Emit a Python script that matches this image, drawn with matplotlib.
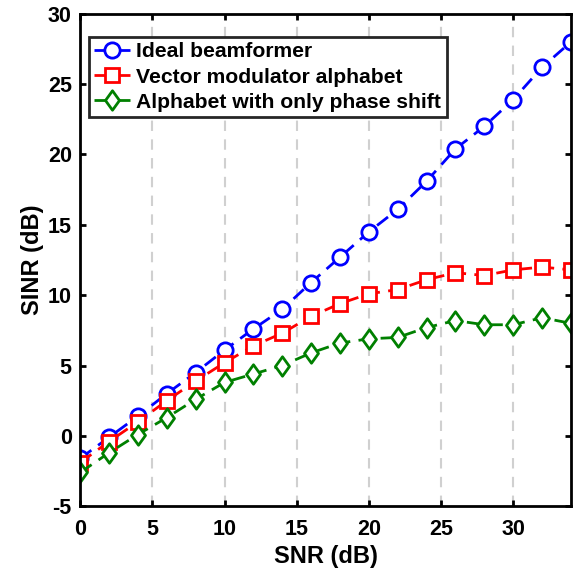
import numpy as np
import matplotlib
matplotlib.use("Agg")
import matplotlib.pyplot as plt
from matplotlib.path import Path

plt.rcParams['font.family'] = ['Liberation Sans', 'DejaVu Sans']
plt.rcParams['font.weight'] = 'bold'
plt.rcParams['axes.unicode_minus'] = False

snr = [0, 2, 4, 6, 8, 10, 12, 14, 16, 18, 20, 22, 24, 26, 28, 30, 32, 34]
ideal = [-1.6, -0.1, 1.4, 3.0, 4.5, 6.1, 7.6, 9.0, 10.9, 12.7, 14.5, 16.1,
         18.1, 20.4, 22.0, 23.9, 26.2, 28.0]
vector_mod = [-1.9, -0.4, 1.0, 2.5, 3.9, 5.2, 6.4, 7.3, 8.5, 9.4, 10.1, 10.4,
              11.1, 11.6, 11.4, 11.8, 12.0, 11.8]
phase_only = [-2.6, -1.2, 0.1, 1.3, 2.6, 3.8, 4.4, 5.0, 5.9, 6.6, 6.9, 7.0,
              7.7, 8.2, 7.9, 7.9, 8.4, 8.0]

# matlab-like diamond, a bit taller than wide
diamond = Path([(0, 1), (0.72, 0), (0, -1), (-0.72, 0), (0, 1)],
               [Path.MOVETO, Path.LINETO, Path.LINETO, Path.LINETO, Path.CLOSEPOLY])

fig = plt.figure(figsize=(5.85, 5.74), dpi=100)
ax = fig.add_axes([0.137, 0.118, 0.839, 0.858])

ax.plot(snr, ideal, '--', marker='o', color='#0000ff', lw=2, ms=11, mfc='white',
        mew=2, dashes=(5, 3), label='Ideal beamformer')
ax.plot(snr, vector_mod, '--', marker='s', color='#ff0000', lw=2, ms=9.5, mfc='white',
        mew=2, dashes=(5, 3), label='Vector modulator alphabet')
ax.plot(snr, phase_only, '--', marker=diamond, color='#008000', lw=2, ms=14,
        mfc='white', mew=2, dashes=(5, 3), label='Alphabet with only phase shift')

ax.set_xlim(0, 34)
ax.set_ylim(-5, 30)
ax.set_xticks([0, 5, 10, 15, 20, 25, 30])
ax.set_yticks([-5, 0, 5, 10, 15, 20, 25, 30])
ax.xaxis.grid(True, linestyle='--', color='#d0d0d0', lw=1.5, dashes=(5, 4))
ax.set_axisbelow(True)

ax.tick_params(direction='in', top=True, right=True, length=4, width=2,
               labelsize=15.5)
ax.tick_params(axis='x', pad=9)
ax.tick_params(axis='y', pad=6)
for s in ax.spines.values():
    s.set_linewidth(2)

ax.set_xlabel('SNR (dB)', fontsize=17, fontweight='bold', labelpad=4)
ax.set_ylabel('SINR (dB)', fontsize=17, fontweight='bold', labelpad=3)

leg = ax.legend(loc='upper left', fontsize=15.2, fancybox=False, framealpha=1,
                edgecolor='#262626', handlelength=1.7, handletextpad=0.3,
                borderaxespad=0.0, bbox_to_anchor=(0.018, 0.953),
                borderpad=0.25, labelspacing=0.3)
leg.get_frame().set_linewidth(2)
for t in leg.get_texts():
    t.set_fontweight('bold')

fig.savefig('out.png', dpi=100)
